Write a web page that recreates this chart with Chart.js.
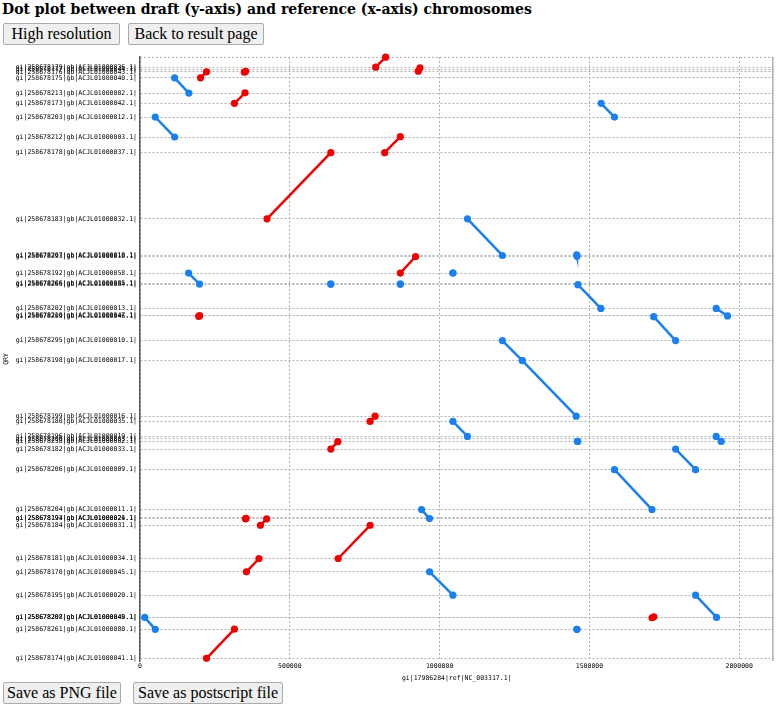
<!DOCTYPE html>
<html>
<head>
<meta charset="utf-8">
<title>Dot plot</title>
<script src="https://cdn.jsdelivr.net/npm/chart.js@4.4.1/dist/chart.umd.min.js"></script>
<style>
  body { margin: 0; background: #fff; width: 777px; height: 705px; position: relative; overflow: hidden; }
  h1 { position: absolute; left: 2px; top: 0; margin: 0; font: bold 14px "DejaVu Serif", serif; line-height: 18px; white-space: nowrap; color: #000; }
  .btn { position: absolute; height: 22px; box-sizing: border-box; border: 1px solid #aaa; background: #efefef; font: 16px "Liberation Serif", serif; line-height: 20px; text-align: center; color: #000; border-radius: 2px; }
  #plot { position: absolute; left: 0; top: 50px; }
</style>
</head>
<body>
<h1>Dot plot between draft (y-axis) and reference (x-axis) chromosomes</h1>
<div class="btn" style="left:3px; top:23px; width:117px;">High resolution</div>
<div class="btn" style="left:128px; top:23px; width:136px;">Back to result page</div>
<canvas id="plot" width="777" height="632"></canvas>
<div class="btn" style="left:3px; top:682px; width:118px;">Save as PNG file</div>
<div class="btn" style="left:133px; top:682px; width:150px;">Save as postscript file</div>

<script>
// draft contigs (y axis): start position and name
const qryTickPos = [1921850, 1914000, 1906670, 1887290, 1837870, 1804600, 1760350, 1695750, 1645690,
  1430890, 1312350, 1308150, 1255500, 1222560, 1219970, 1141160, 1118870, 1116610, 1036830, 972230,
  792320, 775200, 726750, 718680, 710600, 685730, 619190, 489990, 463180, 460920, 439280, 331720,
  288440, 213180, 142120, 139860, 102390, 8720];
const qryTickLabels = [
  'gi|258678179|gb|ACJL01000036.1|', 'gi|258678177|gb|ACJL01000044.1|', 'gi|258678176|gb|ACJL01000043.1|',
  'gi|258678175|gb|ACJL01000040.1|', 'gi|258678213|gb|ACJL01000002.1|', 'gi|258678173|gb|ACJL01000042.1|',
  'gi|258678203|gb|ACJL01000012.1|', 'gi|258678212|gb|ACJL01000003.1|', 'gi|258678178|gb|ACJL01000037.1|',
  'gi|258678183|gb|ACJL01000032.1|', 'gi|258678207|gb|ACJL01000018.1|', 'gi|258678293|gb|ACJL01000010.1|',
  'gi|258678192|gb|ACJL01000058.1|', 'gi|258678266|gb|ACJL01000085.1|', 'gi|258678265|gb|ACJL01000084.1|',
  'gi|258678202|gb|ACJL01000013.1|', 'gi|258678210|gb|ACJL01000047.1|', 'gi|258678209|gb|ACJL01000046.1|',
  'gi|258678295|gb|ACJL01000010.1|', 'gi|258678198|gb|ACJL01000017.1|', 'gi|258678199|gb|ACJL01000016.1|',
  'gi|258678180|gb|ACJL01000035.1|', 'gi|258678196|gb|ACJL01000019.1|', 'gi|258678200|gb|ACJL01000083.1|',
  'gi|258678238|gb|ACJL01000082.1|', 'gi|258678182|gb|ACJL01000033.1|', 'gi|258678206|gb|ACJL01000009.1|',
  'gi|258678204|gb|ACJL01000011.1|', 'gi|258678193|gb|ACJL01000025.1|', 'gi|258678194|gb|ACJL01000024.1|',
  'gi|258678184|gb|ACJL01000031.1|', 'gi|258678181|gb|ACJL01000034.1|', 'gi|258678170|gb|ACJL01000045.1|',
  'gi|258678195|gb|ACJL01000020.1|', 'gi|258678207|gb|ACJL01000048.1|', 'gi|258678208|gb|ACJL01000049.1|',
  'gi|258678261|gb|ACJL01000080.1|', 'gi|258678174|gb|ACJL01000041.1|'];

// red alignments (reference start/end vs draft start/end)
const redRefStart = [786640, 202070, 348500, 928790, 315260, 816600, 423780, 868870, 195800, 768000, 636840, 352000, 401810, 661470, 355200, 1709000, 222040];
const redRefEnd   = [819930, 222040, 352500, 934450, 350540, 868870, 636840, 919800, 199000, 784650, 660140, 354000, 422780, 768000, 397150, 1715000, 315260];
const redQryStart = [1921850, 1887290, 1905500, 1908930, 1804600, 1645040, 1430890, 1255500, 1115600, 775200, 685730, 460000, 439280, 331720, 288440, 140000, 8720];
const redQryEnd   = [1954150, 1906670, 1908500, 1919590, 1838840, 1696720, 1645040, 1309120, 1117600, 792320, 709630, 461800, 459630, 439280, 331720, 143000, 103360];

// blue alignments
const blueRefStart = [115520, 50930, 162120, 636840, 868870, 1044310, 1539000, 1092910, 1457500, 1461430, 1714440, 1923160, 1209430, 1276010, 1044310, 1460430, 1923160, 1787670, 1583600, 939780, 966410, 1854250, 15650, 1458100];
const blueRefEnd   = [163120, 115520, 198740, 636840, 868870, 1044310, 1583600, 1209430, 1458500, 1538000, 1787670, 1960780, 1276010, 1455770, 1092910, 1460430, 1939810, 1854250, 1708780, 966410, 1044310, 1924160, 50930, 1458100];
const blueQryStart = [1887290, 1760350, 1255500, 1219970, 1219970, 1255500, 1804600, 1430890, 1314000, 1217710, 1114350, 1141160, 1036830, 972230, 775200, 710600, 726750, 685730, 619190, 489990, 288440, 213180, 141150, 102390];
const blueQryEnd   = [1837870, 1695750, 1219970, 1219970, 1219970, 1255500, 1760350, 1312350, 1309500, 1141160, 1036830, 1116610, 972230, 792320, 726750, 710600, 710600, 619190, 489990, 460920, 213180, 141150, 102390, 102390];

const refTicks = [0, 500000, 1000000, 1500000, 2000000];

const RED = '#f00000';
const BLUE = '#1a80f0';
const tickFont = { family: 'DejaVu Sans Mono', size: 6.5 };

function segments(rs, re, qs, qe, color) {
  return rs.map((x, i) => ({
    data: [{ x: x, y: qs[i] }, { x: re[i], y: qe[i] }],
    showLine: true,
    borderColor: color,
    backgroundColor: color,
    borderWidth: 2.5,
    pointRadius: 3.6,
    pointHoverRadius: 3.6,
    pointBorderWidth: 0,
    clip: false
  }));
}

// plot frame: dotted top edge, solid right edge
const frame = {
  id: 'frame',
  beforeDatasetsDraw(chart) {
    const { ctx, chartArea: a } = chart;
    ctx.save();
    ctx.strokeStyle = '#b0b0b0';
    ctx.lineWidth = 1;
    ctx.setLineDash([2, 2]);
    ctx.beginPath();
    ctx.moveTo(a.left, a.top + 0.5);
    ctx.lineTo(a.right, a.top + 0.5);
    ctx.stroke();
    ctx.setLineDash([]);
    ctx.strokeStyle = '#888';
    ctx.beginPath();
    ctx.moveTo(a.right - 0.5, a.top);
    ctx.lineTo(a.right - 0.5, a.bottom);
    ctx.stroke();
    ctx.restore();
  }
};

new Chart(document.getElementById('plot'), {
  type: 'scatter',
  data: {
    datasets: segments(blueRefStart, blueRefEnd, blueQryStart, blueQryEnd, BLUE)
      .concat(segments(redRefStart, redRefEnd, redQryStart, redQryEnd, RED))
  },
  options: {
    responsive: false,
    animation: false,
    layout: { padding: { top: 6, right: 2, left: 0, bottom: 0 } },
    plugins: { legend: { display: false }, tooltip: { enabled: false } },
    scales: {
      x: {
        type: 'linear',
        min: 0,
        max: 2114000,
        afterBuildTicks: s => { s.ticks = refTicks.map(v => ({ value: v })); },
        afterFit: s => { s.height = 21; },
        ticks: { autoSkip: false, maxRotation: 0, padding: 1, color: '#000', font: tickFont, callback: v => String(v) },
        grid: { color: '#b0b0b0', lineWidth: 1, drawTicks: false },
        border: { display: false, dash: [2, 2] },
        title: { display: true, text: 'gi|17986284|ref|NC_003317.1|', color: '#000', font: tickFont, padding: 0 }
      },
      y: {
        type: 'linear',
        min: 0,
        max: 1955000,
        afterBuildTicks: s => { s.ticks = qryTickPos.map(v => ({ value: v })); },
        afterFit: s => { s.width = 140; },
        ticks: { autoSkip: false, padding: 3, color: '#000', font: tickFont, callback: (v, i) => qryTickLabels[i] },
        grid: { color: '#b0b0b0', lineWidth: 1, drawTicks: false },
        border: { display: true, color: '#555', width: 1.5, dash: [2, 2] },
        title: { display: true, text: 'QRY', color: '#000', font: tickFont, padding: 2 }
      }
    }
  },
  plugins: [frame]
});
</script>
</body>
</html>
